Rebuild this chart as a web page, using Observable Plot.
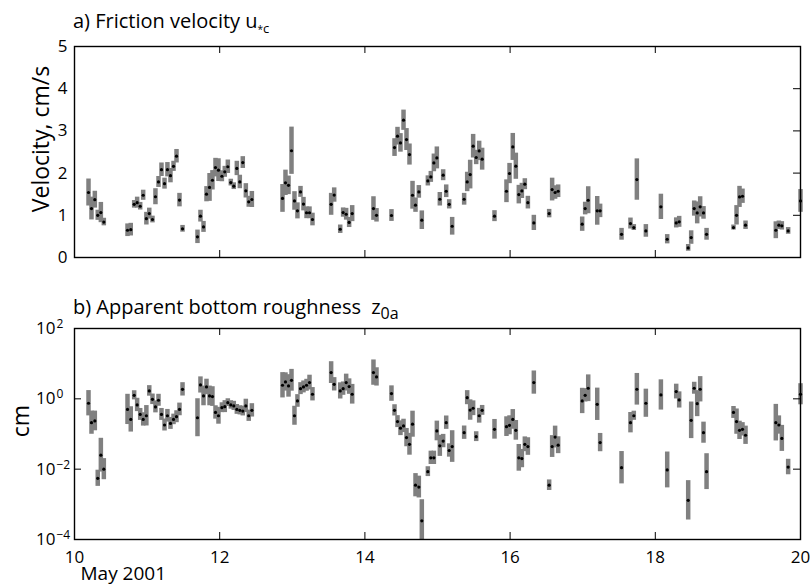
<!DOCTYPE html>
<html>
<head>
<meta charset="utf-8">
<script src="https://cdn.jsdelivr.net/npm/d3@7"></script>
<script src="https://cdn.jsdelivr.net/npm/@observablehq/plot@0.6"></script>
<style>
  body { margin: 0; background: #fff; }
  #chart { position: relative; width: 810px; height: 585px; background: #fff; color: #000;
           font-family: "Open Sans", sans-serif; overflow: hidden; }
  .panel { position: absolute; left: 0; }
  .title { position: absolute; left: 73px; font-size: 20px; line-height: 1; white-space: nowrap; }
  .title sub { vertical-align: -5px; line-height: 0; }
  .sub-a { font-size: 13px; }
  .sub-a .star { font-size: 10px; }
  .sub-b { font-size: 16px; }
  .gap { margin-left: 5px; }
</style>
</head>
<body>
<div id="chart">
  <div class="title" style="top:11px">a) Friction velocity u<sub class="sub-a"><span class="star">*</span>c</sub></div>
  <div class="title" style="top:297px">b) Apparent bottom roughness <span class="gap">z</span><sub class="sub-b">0a</sub></div>
</div>
<script>
// Burst times, day of May 2001
const day = [
  10.193, 10.234, 10.28, 10.32, 10.363, 10.404,
  10.73, 10.775, 10.822, 10.863, 10.905, 10.946, 10.99, 11.03, 11.074, 11.115, 11.157, 11.198, 11.24, 11.28, 11.322, 11.364, 11.405, 11.446, 11.488,
  11.694, 11.735, 11.777, 11.818, 11.86, 11.9, 11.942, 11.983, 12.03, 12.07, 12.112, 12.153, 12.194, 12.236, 12.277, 12.318, 12.36, 12.4, 12.443,
  12.865, 12.906, 12.948, 12.989, 13.03, 13.071, 13.113, 13.154, 13.196, 13.237, 13.278,
  13.535, 13.577, 13.66, 13.7, 13.742, 13.783, 13.825,
  14.118, 14.16,
  14.366, 14.408, 14.449, 14.49, 14.532, 14.573, 14.614, 14.656, 14.697, 14.743, 14.784,
  14.867, 14.908, 14.95, 14.991, 15.032, 15.078, 15.12, 15.161, 15.202,
  15.367, 15.409, 15.45, 15.491, 15.533, 15.574, 15.615,
  15.785,
  15.95, 15.992, 16.037, 16.079, 16.12, 16.162, 16.203, 16.245,
  16.327,
  16.538, 16.579, 16.62, 16.662,
  16.993, 17.034, 17.076,
  17.2, 17.24,
  17.535,
  17.658, 17.704, 17.746,
  17.87,
  18.077,
  18.164,
  18.288, 18.329,
  18.453, 18.494, 18.536, 18.577, 18.618, 18.664, 18.706,
  19.077, 19.119, 19.16, 19.201, 19.243,
  19.66, 19.702, 19.743,
  19.83,
  20.0
];

// Friction velocity u*c (cm/s) and its uncertainty (cm/s)
const uStar = [
  1.54, 1.16, 1.37, 1.0, 1.065, 0.84,
  0.646, 0.66, 1.26, 1.30, 1.215, 1.475, 0.92, 1.04, 0.9, 1.44, 1.79, 2.08, 1.75, 2.08, 1.94, 2.16, 2.40, 1.36, 0.68,
  0.49, 0.98, 0.725, 1.5, 1.66, 1.83, 2.13, 2.07, 1.925, 2.03, 2.15, 1.775, 1.69, 2.11, 1.79, 2.25, 1.58, 1.32, 1.375,
  1.40, 1.77, 1.71, 2.53, 1.34, 1.105, 1.555, 1.265, 1.06, 1.06, 0.9,
  1.26, 1.48, 0.67, 1.065, 1.025, 0.83, 1.04,
  1.16, 1.0,
  0.995, 2.605, 2.875, 2.716, 3.253, 2.795, 2.44, 1.475, 1.24, 1.555, 0.884,
  1.815, 1.91, 2.242, 2.36, 1.38, 1.95, 1.57, 1.26, 0.74,
  1.38, 1.79, 1.965, 2.637, 2.37, 2.526, 2.33,
  0.98,
  1.57, 1.99, 2.62, 2.163, 1.49, 1.578, 1.737, 1.30,
  0.82,
  1.04, 1.61, 1.54, 1.57,
  0.79, 1.16, 1.357,
  1.105, 1.105,
  0.55,
  0.805, 0.71, 1.847,
  0.63,
  1.20,
  0.433,
  0.82, 0.845,
  0.228, 0.473, 1.16, 1.057, 1.2, 1.057, 0.55,
  0.71, 1.0, 1.436, 1.452, 0.765,
  0.646, 0.765, 0.75,
  0.63,
  1.34
];
const uErr = [
  0.32, 0.27, 0.2, 0.12, 0.24, 0.09,
  0.15, 0.15, 0.09, 0.13, 0.09, 0.12, 0.15, 0.13, 0.08, 0.19, 0.13, 0.16, 0.13, 0.17, 0.17, 0.12, 0.16, 0.16, 0.08,
  0.16, 0.14, 0.13, 0.18, 0.33, 0.23, 0.22, 0.27, 0.13, 0.13, 0.16, 0.08, 0.08, 0.17, 0.16, 0.14, 0.17, 0.13, 0.19,
  0.33, 0.3, 0.22, 0.56, 0.22, 0.19, 0.13, 0.16, 0.14, 0.14, 0.15,
  0.26, 0.17, 0.1, 0.11, 0.14, 0.12, 0.19,
  0.28, 0.16,
  0.14, 0.21, 0.21, 0.22, 0.24, 0.26, 0.25, 0.33, 0.17, 0.15, 0.22,
  0.12, 0.13, 0.21, 0.26, 0.16, 0.13, 0.15, 0.11, 0.21,
  0.14, 0.23, 0.34, 0.28, 0.17, 0.23, 0.26,
  0.13,
  0.27, 0.24, 0.32, 0.31, 0.22, 0.18, 0.13, 0.15,
  0.18,
  0.1, 0.27, 0.16, 0.15,
  0.17, 0.15, 0.32,
  0.34, 0.16,
  0.14,
  0.13, 0.07, 0.49,
  0.15,
  0.3,
  0.11,
  0.12, 0.13,
  0.08, 0.16, 0.18, 0.26, 0.24, 0.15, 0.14,
  0.06, 0.23, 0.25, 0.17, 0.1,
  0.2, 0.1, 0.1,
  0.08,
  0.27
];

// Apparent bottom roughness z0a (cm) and its uncertainty (decades, each side)
const z0a = [
  0.75, 0.21, 0.235, 0.0055, 0.025, 0.01,
  0.50, 0.26, 1.26, 0.67, 0.36, 0.26, 0.33, 1.68, 0.97, 0.59, 0.91, 0.36, 0.18, 0.33, 0.20, 0.26, 0.31, 0.50, 1.86,
  0.29, 2.48, 1.21, 2.18, 1.21, 1.16, 0.41, 0.33, 0.56, 0.60, 0.78, 0.67, 0.63, 0.50, 0.47, 0.45, 0.63, 0.33, 0.47,
  2.43, 3.02, 2.33, 3.37, 0.33, 0.87, 1.95, 2.18, 2.43, 2.90, 1.35,
  5.57, 2.59, 1.68, 1.95, 2.90, 2.23, 1.35,
  5.57, 4.20,
  1.41, 0.47, 0.225, 0.146, 0.17, 0.079, 0.051, 0.19, 0.0035, 0.0031, 0.00034,
  0.0085, 0.021, 0.021, 0.122, 0.046, 0.063, 0.21, 0.034, 0.044,
  0.109, 1.08, 0.48, 0.54, 0.084, 0.33, 0.47,
  0.136,
  0.162, 0.177, 0.26, 0.127, 0.021, 0.020, 0.051, 0.044,
  2.90,
  0.0035, 0.044, 0.082, 0.048,
  0.87, 1.26, 2.0,
  0.70, 0.057,
  0.011,
  0.21, 0.33, 1.87,
  0.75,
  1.29,
  0.0095,
  1.61, 0.93,
  0.0013, 0.245, 2.0, 0.73, 1.87, 0.109, 0.0085,
  0.41, 0.225, 0.127, 0.136, 0.092,
  0.21, 0.18, 0.075,
  0.0115,
  1.35
];
const z0aDex = [
  0.36, 0.33, 0.28, 0.23, 0.48, 0.3,
  0.43, 0.36, 0.13, 0.19, 0.17, 0.19, 0.29, 0.15, 0.15, 0.17, 0.17, 0.17, 0.17, 0.18, 0.17, 0.15, 0.17, 0.18, 0.19,
  0.54, 0.23, 0.28, 0.22, 0.28, 0.28, 0.19, 0.24, 0.14, 0.17, 0.11, 0.12, 0.13, 0.14, 0.13, 0.14, 0.19, 0.16, 0.19,
  0.36, 0.26, 0.32, 0.31, 0.27, 0.18, 0.17, 0.17, 0.17, 0.21, 0.19,
  0.31, 0.19, 0.23, 0.19, 0.24, 0.22, 0.28,
  0.36, 0.26,
  0.22, 0.16, 0.17, 0.21, 0.19, 0.26, 0.31, 0.37, 0.33, 0.31, 0.6,
  0.14, 0.19, 0.19, 0.28, 0.3, 0.19, 0.19, 0.19, 0.45,
  0.19, 0.2, 0.29, 0.21, 0.14, 0.21, 0.14,
  0.28,
  0.28, 0.27, 0.28, 0.28, 0.38, 0.26, 0.21, 0.25,
  0.33,
  0.15, 0.31, 0.31, 0.24,
  0.36, 0.19, 0.38,
  0.46, 0.26,
  0.46,
  0.29, 0.13, 0.45,
  0.4,
  0.43,
  0.51,
  0.21, 0.23,
  0.56, 0.52, 0.17, 0.37, 0.36, 0.3, 0.51,
  0.17, 0.36, 0.26, 0.19, 0.26,
  0.52, 0.26, 0.37,
  0.22,
  0.3
];

// Axis ticks
const dayTicks = [10, 12, 14, 16, 18, 20];
const uTicks = [0, 1, 2, 3, 4, 5];
const zTicks = [1e-4, 1e-2, 1, 1e2];

const rows = day.map((t, i) => ({
  t,
  u: uStar[i], uLo: uStar[i] - uErr[i], uHi: uStar[i] + uErr[i],
  z: z0a[i], zLo: z0a[i] / 10 ** z0aDex[i], zHi: z0a[i] * 10 ** z0aDex[i]
}));

const W = 810, mL = 74, mR = 10;
const innerW = W - mL - mR;
const innerH = 211;
const tick = 7;
const barColor = "#808080";
const font = "'Open Sans', sans-serif";

// Inward tick marks on the frame, MATLAB style
function frameTicks(yValues, withLeft) {
  const m = [
    Plot.tickX(dayTicks, {x: d => d, insetTop: innerH - tick, stroke: "black"}),
    Plot.tickX(dayTicks, {x: d => d, insetBottom: innerH - tick, stroke: "black"}),
    Plot.tickY(yValues, {y: d => d, insetLeft: innerW - tick, stroke: "black"})
  ];
  if (withLeft) m.push(Plot.tickY(yValues, {y: d => d, insetRight: innerW - tick, stroke: "black"}));
  return m;
}

// a) friction velocity
const velocity = Plot.plot({
  width: W, height: 270,
  marginTop: 46, marginBottom: 13, marginLeft: mL, marginRight: mR,
  style: {fontFamily: font, background: "transparent", color: "black", overflow: "visible"},
  x: {domain: [10, 20], axis: null},
  y: {domain: [0, 5]},
  marks: [
    Plot.ruleX(rows, {x: "t", y1: "uLo", y2: "uHi", stroke: barColor, strokeWidth: 4.5}),
    Plot.dot(rows, {x: "t", y: "u", r: 1.6, fill: "black", stroke: "none"}),
    ...frameTicks(uTicks, false),
    Plot.frame({stroke: "black", strokeWidth: 1.4}),
    Plot.axisY(uTicks, {anchor: "left", tickSize: 0, tickPadding: 7, fontSize: 17, label: null}),
    Plot.text(["Velocity, cm/s"], {frameAnchor: "left", rotate: -90, dx: -33, dy: -13,
                                   textAnchor: "middle", lineAnchor: "middle", fontSize: 23})
  ]
});
velocity.classList.add("panel");
velocity.style.top = "0px";

// b) apparent bottom roughness
const roughness = Plot.plot({
  width: W, height: 285,
  marginTop: 28, marginBottom: 46, marginLeft: mL, marginRight: mR,
  style: {fontFamily: font, background: "transparent", color: "black", overflow: "visible"},
  x: {domain: [10, 20]},
  y: {type: "log", domain: [1e-4, 1e2], clamp: true},
  marks: [
    Plot.ruleX(rows, {x: "t", y1: "zLo", y2: "zHi", stroke: barColor, strokeWidth: 4.5}),
    Plot.dot(rows, {x: "t", y: "z", r: 1.6, fill: "black", stroke: "none"}),
    ...frameTicks(zTicks, true),
    Plot.frame({stroke: "black", strokeWidth: 1.4}),
    Plot.axisY(zTicks, {anchor: "left", tickSize: 0, tickPadding: 19, fontSize: 17, label: null,
                        tickFormat: d => `10^${Math.round(Math.log10(d))}`}),
    Plot.axisX(dayTicks, {anchor: "bottom", tickSize: 0, tickPadding: 11, fontSize: 17, label: null}),
    Plot.text(["cm"], {frameAnchor: "left", rotate: -90, dx: -53, dy: -13,
                       textAnchor: "middle", lineAnchor: "middle", fontSize: 23}),
    Plot.text(["May 2001"], {frameAnchor: "bottom-left", dx: 6, dy: 27, lineAnchor: "top", textAnchor: "start", fontSize: 19})
  ]
});
roughness.classList.add("panel");
roughness.style.top = "300px";

// Power-of-ten labels: "10" right-aligned, exponent raised after it
roughness.querySelectorAll('g[aria-label="y-axis tick label"] text').forEach(t => {
  const [base, exp] = t.textContent.split("^");
  t.textContent = base;
  const sup = t.cloneNode(false);
  sup.setAttribute("text-anchor", "start");
  sup.setAttribute("font-size", "12");
  sup.setAttribute("dy", "-0.35em");
  sup.setAttribute("dx", "1");
  sup.textContent = exp.replace("-", "\u2212");
  t.parentNode.appendChild(sup);
});

const chart = document.getElementById("chart");
chart.appendChild(velocity);
chart.appendChild(roughness);
</script>
</body>
</html>
